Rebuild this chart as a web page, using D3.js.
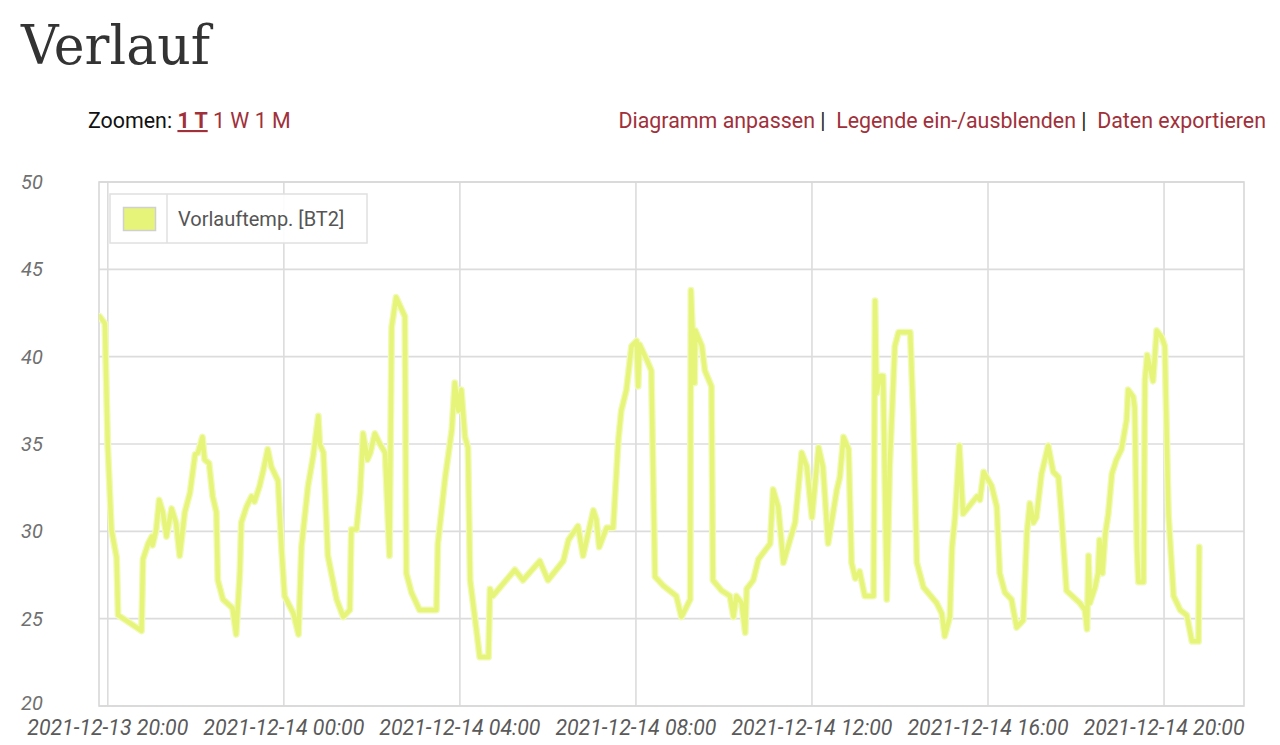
<!DOCTYPE html>
<html><head><meta charset="utf-8">
<script src="https://cdn.jsdelivr.net/npm/d3@7"></script>
<style>
html,body{margin:0;padding:0;background:#fff;}
svg{display:block;}
</style></head>
<body>
<svg id="chart" width="1280" height="745"></svg>
<script>
const seriesName = "Vorlauftemp. [BT2]";
const times = [
"2021-12-13 19:49","2021-12-13 19:56","2021-12-13 20:00","2021-12-13 20:05","2021-12-13 20:12","2021-12-13 20:14",
"2021-12-13 20:46","2021-12-13 20:48","2021-12-13 20:55","2021-12-13 21:00","2021-12-13 21:01","2021-12-13 21:06",
"2021-12-13 21:10","2021-12-13 21:15","2021-12-13 21:20","2021-12-13 21:27","2021-12-13 21:33","2021-12-13 21:38",
"2021-12-13 21:45","2021-12-13 21:52","2021-12-13 21:59","2021-12-13 22:03","2021-12-13 22:09","2021-12-13 22:12",
"2021-12-13 22:18","2021-12-13 22:23","2021-12-13 22:28","2021-12-13 22:30","2021-12-13 22:37","2021-12-13 22:50",
"2021-12-13 22:55","2021-12-13 23:00","2021-12-13 23:02","2021-12-13 23:09","2021-12-13 23:16","2021-12-13 23:20",
"2021-12-13 23:27","2021-12-13 23:32","2021-12-13 23:38","2021-12-13 23:43","2021-12-13 23:52","2021-12-13 23:57",
"2021-12-14 00:01","2021-12-14 00:13","2021-12-14 00:20","2021-12-14 00:24","2021-12-14 00:33","2021-12-14 00:40",
"2021-12-14 00:47","2021-12-14 00:49","2021-12-14 00:54","2021-12-14 01:00","2021-12-14 01:12","2021-12-14 01:21",
"2021-12-14 01:30","2021-12-14 01:32","2021-12-14 01:39","2021-12-14 01:44","2021-12-14 01:48","2021-12-14 01:54",
"2021-12-14 01:58","2021-12-14 02:04","2021-12-14 02:11","2021-12-14 02:18","2021-12-14 02:24","2021-12-14 02:27",
"2021-12-14 02:33","2021-12-14 02:45","2021-12-14 02:47","2021-12-14 02:54","2021-12-14 03:05","2021-12-14 03:28",
"2021-12-14 03:30","2021-12-14 03:40","2021-12-14 03:49","2021-12-14 03:53","2021-12-14 03:58","2021-12-14 04:02",
"2021-12-14 04:07","2021-12-14 04:11","2021-12-14 04:14","2021-12-14 04:23","2021-12-14 04:27","2021-12-14 04:39",
"2021-12-14 04:41","2021-12-14 04:45","2021-12-14 05:15","2021-12-14 05:26","2021-12-14 05:49","2021-12-14 06:00",
"2021-12-14 06:21","2021-12-14 06:28","2021-12-14 06:41","2021-12-14 06:48","2021-12-14 06:55","2021-12-14 07:02",
"2021-12-14 07:06","2021-12-14 07:10","2021-12-14 07:20","2021-12-14 07:29","2021-12-14 07:36","2021-12-14 07:40",
"2021-12-14 07:47","2021-12-14 07:54","2021-12-14 08:01","2021-12-14 08:03","2021-12-14 08:05","2021-12-14 08:15",
"2021-12-14 08:21","2021-12-14 08:26","2021-12-14 08:37","2021-12-14 08:55","2021-12-14 09:02","2021-12-14 09:14",
"2021-12-14 09:15","2021-12-14 09:20","2021-12-14 09:21","2021-12-14 09:30","2021-12-14 09:34","2021-12-14 09:43",
"2021-12-14 09:45","2021-12-14 09:57","2021-12-14 10:08","2021-12-14 10:13","2021-12-14 10:17","2021-12-14 10:24",
"2021-12-14 10:29","2021-12-14 10:31","2021-12-14 10:40","2021-12-14 10:47","2021-12-14 11:03","2021-12-14 11:07",
"2021-12-14 11:14","2021-12-14 11:21","2021-12-14 11:37","2021-12-14 11:46","2021-12-14 11:53","2021-12-14 12:00",
"2021-12-14 12:09","2021-12-14 12:15","2021-12-14 12:22","2021-12-14 12:34","2021-12-14 12:38","2021-12-14 12:43",
"2021-12-14 12:50","2021-12-14 12:54","2021-12-14 12:59","2021-12-14 13:05","2021-12-14 13:12","2021-12-14 13:24",
"2021-12-14 13:26","2021-12-14 13:28","2021-12-14 13:33","2021-12-14 13:37","2021-12-14 13:42","2021-12-14 13:46",
"2021-12-14 13:53","2021-12-14 13:58","2021-12-14 14:14","2021-12-14 14:18","2021-12-14 14:23","2021-12-14 14:32",
"2021-12-14 14:50","2021-12-14 14:57","2021-12-14 15:01","2021-12-14 15:08","2021-12-14 15:11","2021-12-14 15:15",
"2021-12-14 15:21","2021-12-14 15:26","2021-12-14 15:45","2021-12-14 15:49","2021-12-14 15:54","2021-12-14 16:05",
"2021-12-14 16:12","2021-12-14 16:16","2021-12-14 16:23","2021-12-14 16:32","2021-12-14 16:39","2021-12-14 16:48",
"2021-12-14 16:53","2021-12-14 16:57","2021-12-14 17:02","2021-12-14 17:06","2021-12-14 17:13","2021-12-14 17:22",
"2021-12-14 17:29","2021-12-14 17:36","2021-12-14 17:40","2021-12-14 17:47","2021-12-14 18:05","2021-12-14 18:12",
"2021-12-14 18:15","2021-12-14 18:17","2021-12-14 18:19","2021-12-14 18:26","2021-12-14 18:30","2021-12-14 18:32",
"2021-12-14 18:36","2021-12-14 18:40","2021-12-14 18:44","2021-12-14 18:49","2021-12-14 18:55","2021-12-14 19:02",
"2021-12-14 19:09","2021-12-14 19:11","2021-12-14 19:18","2021-12-14 19:20","2021-12-14 19:23","2021-12-14 19:25",
"2021-12-14 19:32","2021-12-14 19:34","2021-12-14 19:37","2021-12-14 19:45","2021-12-14 19:50","2021-12-14 19:57",
"2021-12-14 20:01","2021-12-14 20:06","2021-12-14 20:13","2021-12-14 20:22","2021-12-14 20:31","2021-12-14 20:38",
"2021-12-14 20:47","2021-12-14 20:48"
];
const values = [
42.3,41.9,34.8,30.1,28.5,25.2,
24.3,28.4,29.3,29.7,29.2,30.1,
31.8,31.1,29.7,31.3,30.5,28.6,
31.1,32.2,34.4,34.5,35.4,34.1,
33.9,32.0,31.1,27.2,26.1,25.6,
24.1,27.6,30.5,31.4,32.0,31.7,
32.6,33.5,34.7,33.7,32.9,28.9,
26.3,25.3,24.1,29.1,32.6,34.3,
36.6,35.0,34.5,28.6,26.1,25.1,
25.5,30.1,30.1,32.2,35.6,34.1,
34.5,35.6,35.0,34.5,28.6,41.7,
43.4,42.3,27.6,26.5,25.5,25.5,
29.3,33.1,35.8,38.5,36.9,38.1,
35.4,34.8,27.2,24.2,22.8,22.8,
26.7,26.3,27.8,27.2,28.3,27.2,
28.3,29.5,30.3,28.6,29.9,31.2,
30.7,29.1,30.2,30.2,35.2,36.9,
38.1,40.6,40.9,38.3,40.7,39.8,
39.2,27.4,26.9,26.3,25.1,26.1,
43.8,38.5,41.5,40.6,39.2,38.3,
27.2,26.6,26.3,25.1,26.3,25.9,
24.2,26.7,27.2,28.4,29.3,32.4,
31.4,28.2,30.5,34.5,33.7,30.8,
34.8,33.7,29.3,32.4,33.1,35.4,
34.7,28.2,27.3,27.7,26.3,26.3,
43.2,37.9,38.9,38.9,26.1,33.7,
40.6,41.4,41.4,36.8,28.2,26.8,
25.9,25.3,24.0,25.1,29.1,30.8,
34.9,31.0,32.0,31.8,33.4,32.6,
31.4,27.6,26.5,26.1,24.5,24.9,
29.9,31.6,30.5,30.8,33.3,34.9,
33.4,33.1,31.0,26.6,25.9,25.5,
24.4,28.6,25.9,26.8,27.6,29.5,
27.6,29.9,31.0,33.3,34.1,34.7,
36.4,38.1,37.7,37.1,29.1,27.1,
27.1,38.7,40.1,38.6,41.5,41.1,
40.6,31.0,26.3,25.5,25.2,23.7,
23.7,29.1
];
const xDomain = ["2021-12-13 19:48","2021-12-14 21:49"];
const xTickLabels = ["2021-12-13 20:00","2021-12-14 00:00","2021-12-14 04:00","2021-12-14 08:00","2021-12-14 12:00","2021-12-14 16:00","2021-12-14 20:00"];
const yTicks = [20,25,30,35,40,45,50];
const zoomOptions = ["1 T","1 W","1 M"];
const headerLinks = ["Diagramm anpassen","Legende ein-/ausblenden","Daten exportieren"];

const parse = d3.timeParse("%Y-%m-%d %H:%M");
const data = times.map((t,i)=>({t:parse(t), v:values[i]}));

const svg = d3.select("#chart");
const L=99, R=1244, T=182, B=706;
const x = d3.scaleTime().domain(xDomain.map(parse)).range([L,R]);
const y = d3.scaleLinear().domain([20,50]).range([B,T]);

// Title
svg.append("text").attr("x",21).attr("y",64)
  .attr("font-family","'DejaVu Serif', serif").attr("font-size",54)
  .attr("fill","#333").attr("textLength",189).attr("lengthAdjust","spacingAndGlyphs")
  .text("Verlauf");

// Zoom line
const zt = svg.append("text").attr("x",88).attr("y",128)
  .attr("font-family","Roboto, sans-serif").attr("font-size",21.4).attr("fill","#111");
zt.append("tspan").text("Zoomen: ");
zoomOptions.forEach((z,i)=>{
  const sp = zt.append("tspan").attr("fill","#a0303a").text(z);
  if(i===0){ sp.attr("font-weight","bold").attr("text-decoration","underline"); }
  if(i<zoomOptions.length-1) zt.append("tspan").text(" ");
});

// right links
const lt = svg.append("text").attr("x",1266).attr("y",128).attr("text-anchor","end")
  .attr("font-family","Roboto, sans-serif").attr("font-size",21.4);
headerLinks.forEach((h,i)=>{
  lt.append("tspan").attr("fill","#a0303a").text(h);
  if(i<headerLinks.length-1) lt.append("tspan").attr("fill","#222").text(" |\u00a0 ");
});

// grid
const g = svg.append("g");
g.selectAll("line.h").data(yTicks).join("line")
  .attr("x1",L).attr("x2",R).attr("y1",d=>y(d)).attr("y2",d=>y(d))
  .attr("stroke","#dcdcdc").attr("stroke-width",1.6);
g.selectAll("line.v").data(xTickLabels).join("line")
  .attr("x1",d=>x(parse(d))).attr("x2",d=>x(parse(d))).attr("y1",T).attr("y2",B)
  .attr("stroke","#dcdcdc").attr("stroke-width",1.6);
g.append("rect").attr("x",L).attr("y",T).attr("width",R-L).attr("height",B-T)
  .attr("fill","none").attr("stroke","#d8d8d8").attr("stroke-width",1.6);

// y labels
svg.append("g").selectAll("text").data(yTicks).join("text")
  .attr("x",21).attr("y",d=>y(d)+7 - (d===20?3:0))
  .attr("font-family","Roboto, sans-serif").attr("font-style","italic").attr("font-size",20)
  .attr("fill","#707070").text(d=>d);

// x labels
svg.append("g").selectAll("text").data(xTickLabels).join("text")
  .attr("x",d=>x(parse(d))).attr("y",735).attr("text-anchor","middle")
  .attr("font-family","Roboto, sans-serif").attr("font-style","italic").attr("font-size",21.3)
  .attr("fill","#5a5a5a").text(d=>d);

// line
svg.append("clipPath").attr("id","clip").append("rect")
  .attr("x",L).attr("y",T).attr("width",R-L).attr("height",B-T);
const line = d3.line().x(d=>x(d.t)).y(d=>y(d.v));
const lg = svg.append("g").attr("clip-path","url(#clip)");
lg.append("path").datum(data).attr("d",line).attr("fill","none")
  .attr("stroke","#f1fab8").attr("stroke-width",7).attr("stroke-linejoin","round").attr("stroke-linecap","round");
lg.append("path").datum(data).attr("d",line).attr("fill","none")
  .attr("stroke","#e6f57a").attr("stroke-width",4.5).attr("stroke-linejoin","round").attr("stroke-linecap","round");

// legend
const leg = svg.append("g");
leg.append("rect").attr("x",110).attr("y",194).attr("width",257).attr("height",49)
  .attr("fill","#fff").attr("fill-opacity",0.9).attr("stroke","#e0e0e0").attr("stroke-width",1.5);
leg.append("line").attr("x1",167).attr("x2",167).attr("y1",194).attr("y2",243)
  .attr("stroke","#e0e0e0").attr("stroke-width",1.5);
leg.append("rect").attr("x",123.5).attr("y",207.5).attr("width",32).attr("height",23)
  .attr("fill","#e6f57a").attr("stroke","#d0d0d0").attr("stroke-width",1.5);
leg.append("text").attr("x",178).attr("y",226)
  .attr("font-family","Roboto, sans-serif").attr("font-size",20).attr("fill","#555")
  .text(seriesName);
</script>
</body></html>
